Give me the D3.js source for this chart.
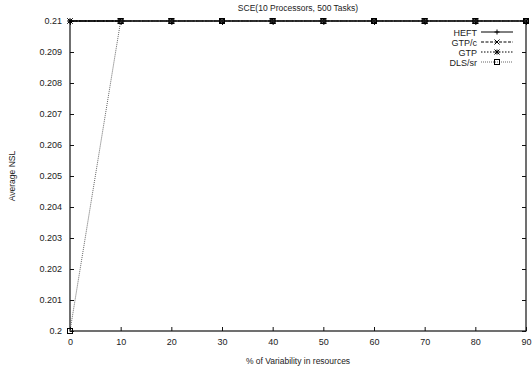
<!DOCTYPE html>
<html>
<head>
<meta charset="utf-8">
<script src="https://cdn.jsdelivr.net/npm/d3@7"></script>
<style>
  body { margin: 0; background: #fff; }
  svg text { font-family: "Liberation Sans", Arial, sans-serif; fill: #222; }
</style>
</head>
<body>
<script>
const xValues = [0, 10, 20, 30, 40, 50, 60, 70, 80, 90];
const heft = [0.21, 0.21, 0.21, 0.21, 0.21, 0.21, 0.21, 0.21, 0.21, 0.21];
const gtpc = [0.21, 0.21, 0.21, 0.21, 0.21, 0.21, 0.21, 0.21, 0.21, 0.21];
const gtp = [0.21, 0.21, 0.21, 0.21, 0.21, 0.21, 0.21, 0.21, 0.21, 0.21];
const dlssr = [0.2, 0.21, 0.21, 0.21, 0.21, 0.21, 0.21, 0.21, 0.21, 0.21];
const seriesNames = ["HEFT", "GTP/c", "GTP", "DLS/sr"];
const yTicks = [0.2, 0.201, 0.202, 0.203, 0.204, 0.205, 0.206, 0.207, 0.208, 0.209, 0.21];

const width = 532, height = 382;
const plotLeft = 70, plotRight = 526, plotTop = 21, plotBottom = 331;

const svg = d3.select("body").append("svg").attr("width", width).attr("height", height);

const x = d3.scaleLinear().domain([0, 90]).range([plotLeft, plotRight]);
const y = d3.scaleLinear().domain([0.2, 0.21]).range([plotBottom, plotTop]);

// axes, gnuplot style: ticks point inward
svg.append("g")
   .attr("transform", `translate(0,${plotBottom})`)
   .call(d3.axisBottom(x).tickValues(xValues).tickSize(-4).tickPadding(8).tickFormat(d3.format("d")))
   .call(g => g.select(".domain").remove());
svg.append("g")
   .attr("transform", `translate(${plotLeft},0)`)
   .call(d3.axisLeft(y).tickValues(yTicks).tickSize(-4).tickPadding(8).tickFormat(d => d3.format("")(+d.toFixed(3))))
   .call(g => g.select(".domain").remove());
svg.append("g")
   .attr("transform", `translate(${plotRight},0)`)
   .call(d3.axisRight(y).tickValues(yTicks).tickSize(-4).tickFormat(""))
   .call(g => g.select(".domain").remove());
svg.append("g")
   .attr("transform", `translate(0,${plotTop})`)
   .call(d3.axisTop(x).tickValues(xValues).tickSize(-4).tickFormat(""))
   .call(g => g.select(".domain").remove());
svg.selectAll(".tick text").style("font-size", "9px").style("fill", "#222").style("font-family", "Liberation Sans, Arial, sans-serif");
svg.selectAll(".tick line").attr("stroke", "#111");

svg.append("rect")
   .attr("x", plotLeft).attr("y", plotTop)
   .attr("width", plotRight - plotLeft).attr("height", plotBottom - plotTop)
   .attr("fill", "none").attr("stroke", "#111").attr("stroke-width", 1.2);

// titles
svg.append("text").attr("x", (plotLeft + plotRight) / 2).attr("y", 11)
   .attr("text-anchor", "middle").style("font-size", "8.5px")
   .text("SCE(10 Processors, 500 Tasks)");
svg.append("text").attr("x", (plotLeft + plotRight) / 2).attr("y", 364)
   .attr("text-anchor", "middle").style("font-size", "8.5px")
   .text("% of Variability in resources");
svg.append("text").attr("transform", `translate(15,${(plotTop + plotBottom) / 2}) rotate(-90)`)
   .attr("text-anchor", "middle").style("font-size", "8.5px")
   .text("Average NSL");

const styles = [
  { data: heft, dash: null, color: "#000", marker: "plus" },
  { data: gtpc, dash: "3,1.5", color: "#000", marker: "cross" },
  { data: gtp, dash: "1.5,1.5", color: "#000", marker: "star" },
  { data: dlssr, dash: "1,1", color: "#666", marker: "square" }
];

const line = d3.line().x(d => x(d[0])).y(d => y(d[1]));

function drawMarker(g, type, cx, cy) {
  const s = 2.5;
  const m = g.append("g").attr("transform", `translate(${cx},${cy})`)
             .attr("stroke", "#000").attr("stroke-width", 1).attr("fill", "none");
  if (type === "plus" || type === "star") {
    m.append("path").attr("d", `M${-s},0H${s}M0,${-s}V${s}`);
  }
  if (type === "cross" || type === "star") {
    m.append("path").attr("d", `M${-s},${-s}L${s},${s}M${-s},${s}L${s},${-s}`);
  }
  if (type === "square") {
    m.append("rect").attr("x", -2.5).attr("y", -2.5).attr("width", 5).attr("height", 5);
  }
}

styles.forEach(st => {
  const pts = xValues.map((xv, i) => [xv, st.data[i]]);
  svg.append("path").attr("d", line(pts)).attr("fill", "none")
     .attr("stroke", st.color).attr("stroke-width", 1)
     .attr("stroke-dasharray", st.dash);
  const mg = svg.append("g");
  pts.forEach(p => drawMarker(mg, st.marker, x(p[0]), y(p[1])));
});

// legend
const legendRows = [32, 42, 52, 62];
styles.forEach((st, i) => {
  const ly = legendRows[i];
  svg.append("text").attr("x", 477).attr("y", ly + 3.5)
     .attr("text-anchor", "end").style("font-size", "9px").text(seriesNames[i]);
  svg.append("line").attr("x1", 481).attr("x2", 513).attr("y1", ly).attr("y2", ly)
     .attr("stroke", st.color).attr("stroke-width", 1).attr("stroke-dasharray", st.dash);
  drawMarker(svg, st.marker, 497, ly);
});
</script>
</body>
</html>
